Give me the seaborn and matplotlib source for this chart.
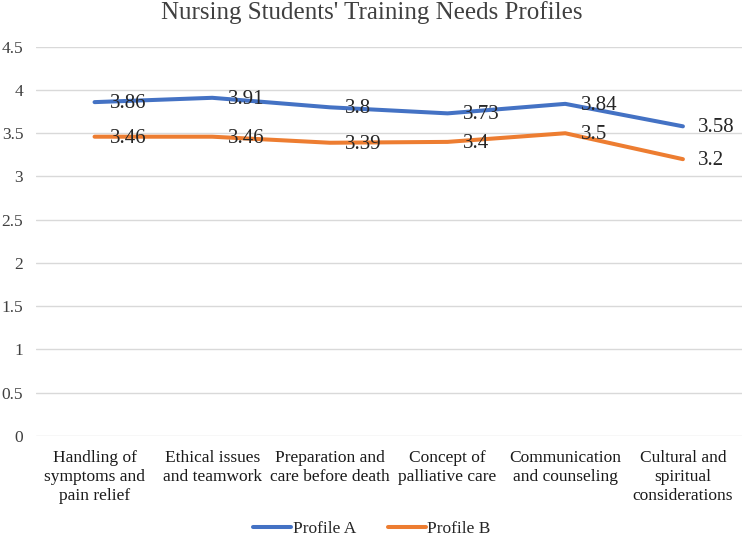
import numpy as np
import pandas as pd
import matplotlib
matplotlib.use("Agg")
import matplotlib.pyplot as plt
import seaborn as sns

# data
categories = ["Handling of\nsymptoms and\npain relief",
              "Ethical issues\nand teamwork",
              "Preparation and\ncare before death",
              "Concept of\npalliative care",
              "Communication\nand counseling",
              "Cultural and\nspiritual\nconsiderations"]
profile_a = [3.86, 3.91, 3.8, 3.73, 3.84, 3.58]
profile_b = [3.46, 3.46, 3.39, 3.4, 3.5, 3.2]
series_names = ["Profile A", "Profile B"]
y_ticks = [0, 0.5, 1, 1.5, 2, 2.5, 3, 3.5, 4, 4.5]
y_tick_labels = ["0", "0.5", "1", "1.5", "2", "2.5", "3", "3.5", "4", "4.5"]

df = pd.DataFrame({
    "pos": list(range(len(categories))) * 2,
    "score": profile_a + profile_b,
    "profile": [series_names[0]] * len(categories) + [series_names[1]] * len(categories),
})

sns.set_style("white")
plt.rcParams["font.family"] = ["Liberation Serif", "DejaVu Serif"]

fig = plt.figure(figsize=(7.44, 5.38), dpi=100)
ax = fig.add_axes([0.048, 0.19, 0.949, 0.723])

colors = {"Profile A": "#4472C4", "Profile B": "#ED7D31"}
sns.lineplot(data=df, x="pos", y="score", hue="profile", palette=colors,
             linewidth=2.9, ax=ax, legend=False, solid_capstyle="round")

# data labels to the right of each point
for vals in (profile_a, profile_b):
    for i, v in enumerate(vals):
        ax.annotate(f"{v:g}", (i, v), xytext=(11, -1), textcoords="offset points",
                    ha="left", va="center", fontsize=15, color="#262626")

ax.set_xlim(-0.5, len(categories) - 0.5)
ax.set_ylim(0, 4.5)
ax.set_yticks(y_ticks)
ax.set_yticklabels(y_tick_labels, fontsize=12.5, color="#404040")
ax.set_xticks(range(len(categories)))
ax.set_xticklabels(categories, fontsize=12.5, color="#1a1a1a", linespacing=1.25)
ax.tick_params(axis="both", length=0)
ax.tick_params(axis="y", pad=9)
ax.tick_params(axis="x", pad=10)
ax.grid(axis="y", color="#D9D9D9", linewidth=1)
ax.set_axisbelow(True)
for s in ax.spines.values():
    s.set_visible(False)
ax.set_xlabel("")
ax.set_ylabel("")

fig.suptitle("Nursing Students' Training Needs Profiles", fontsize=18,
             color="#404040", y=0.998, va="top")

handles = [plt.Line2D([], [], color=colors[n], linewidth=2.9, solid_capstyle="round")
           for n in series_names]
fig.legend(handles, series_names, loc="lower center", ncol=2, frameon=False,
           bbox_to_anchor=(0.5, -0.028), fontsize=12.5, handlelength=2.2,
           columnspacing=1.8, handletextpad=0.1)

fig.savefig("out.png", dpi=100)
